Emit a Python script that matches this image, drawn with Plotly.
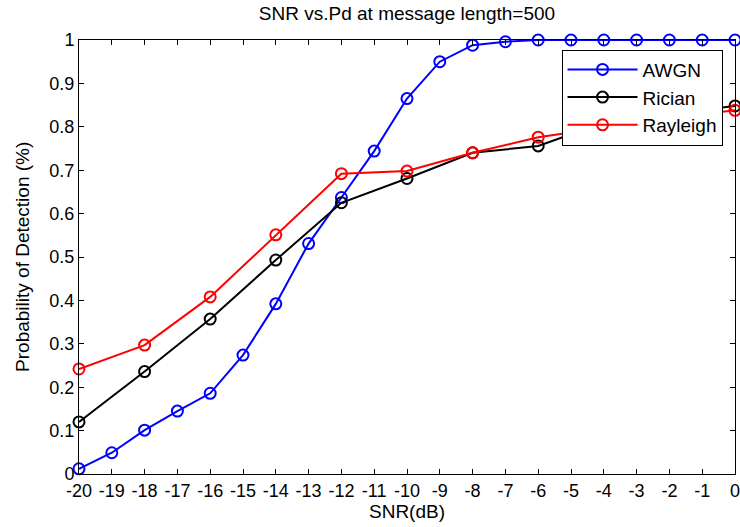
import plotly.graph_objects as go

snr_awgn = list(range(-20, 1))
pd_awgn = [0.012, 0.049, 0.101, 0.145, 0.186, 0.274, 0.392, 0.531, 0.637, 0.744,
           0.865, 0.950, 0.988, 0.996, 1.0, 1.0, 1.0, 1.0, 1.0, 1.0, 1.0]

snr_even = list(range(-20, 1, 2))
pd_rician = [0.120, 0.236, 0.357, 0.493, 0.625, 0.681, 0.740, 0.756, 0.810, 0.830, 0.848]
pd_rayleigh = [0.242, 0.297, 0.408, 0.551, 0.692, 0.698, 0.740, 0.776, 0.798, 0.820, 0.838]

x_ticks = list(range(-20, 1))
y_ticks = [0, 0.1, 0.2, 0.3, 0.4, 0.5, 0.6, 0.7, 0.8, 0.9, 1]
y_labels = ["0", "0.1", "0.2", "0.3", "0.4", "0.5", "0.6", "0.7", "0.8", "0.9", "1"]

fig = go.Figure()
series = [("AWGN", snr_awgn, pd_awgn, "#0000ff"),
          ("Rician", snr_even, pd_rician, "#000000"),
          ("Rayleigh", snr_even, pd_rayleigh, "#ff0000")]
for name, xs, ys, c in series:
    fig.add_trace(go.Scatter(
        x=xs, y=ys, name=name, mode="lines+markers", legendgroup=name,
        line=dict(color=c, width=2),
        marker=dict(symbol="circle-open", size=11, color=c, line=dict(width=2, color=c)),
        cliponaxis=False,
    ))

axis_common = dict(showline=True, linecolor="black", linewidth=1, mirror="ticks",
                   ticks="inside", ticklen=5, tickcolor="black", showgrid=False,
                   zeroline=False, automargin=False, ticklabeloverflow="allow",
                   tickfont=dict(size=18, color="black"))
fig.update_xaxes(range=[-20, 0], tickvals=x_ticks, ticktext=[str(t) for t in x_ticks],
                 title=dict(text="SNR(dB)", font=dict(size=19, color="black"), standoff=0),
                 **axis_common)
fig.update_yaxes(range=[0, 1], tickvals=y_ticks, ticktext=y_labels, **axis_common)

fig.add_annotation(text="Probability of Detection (%)", textangle=-90,
                   xref="paper", yref="paper", x=-0.087, y=0.5,
                   xanchor="center", yanchor="middle", showarrow=False,
                   font=dict(size=19, color="black"))

fig.update_layout(
    width=740, height=527,
    margin=dict(l=79, r=5, t=40, b=53),
    paper_bgcolor="white", plot_bgcolor="white",
    font=dict(family="Liberation Sans, Arial, sans-serif", color="black"),
    title=dict(text="SNR vs.Pd at message length=500", x=0.5, xref="paper", xanchor="center",
               y=0.975, yanchor="middle", font=dict(size=19, color="black")),
    legend=dict(x=0.981, y=0.978, xanchor="right", yanchor="top",
                bgcolor="white", bordercolor="black", borderwidth=1,
                font=dict(size=19, color="black"), tracegroupgap=0,
                itemwidth=70),
    showlegend=True,
)

fig.write_html("out.html", config={"displayModeBar": False},
               post_script="document.body.style.margin='0';")
